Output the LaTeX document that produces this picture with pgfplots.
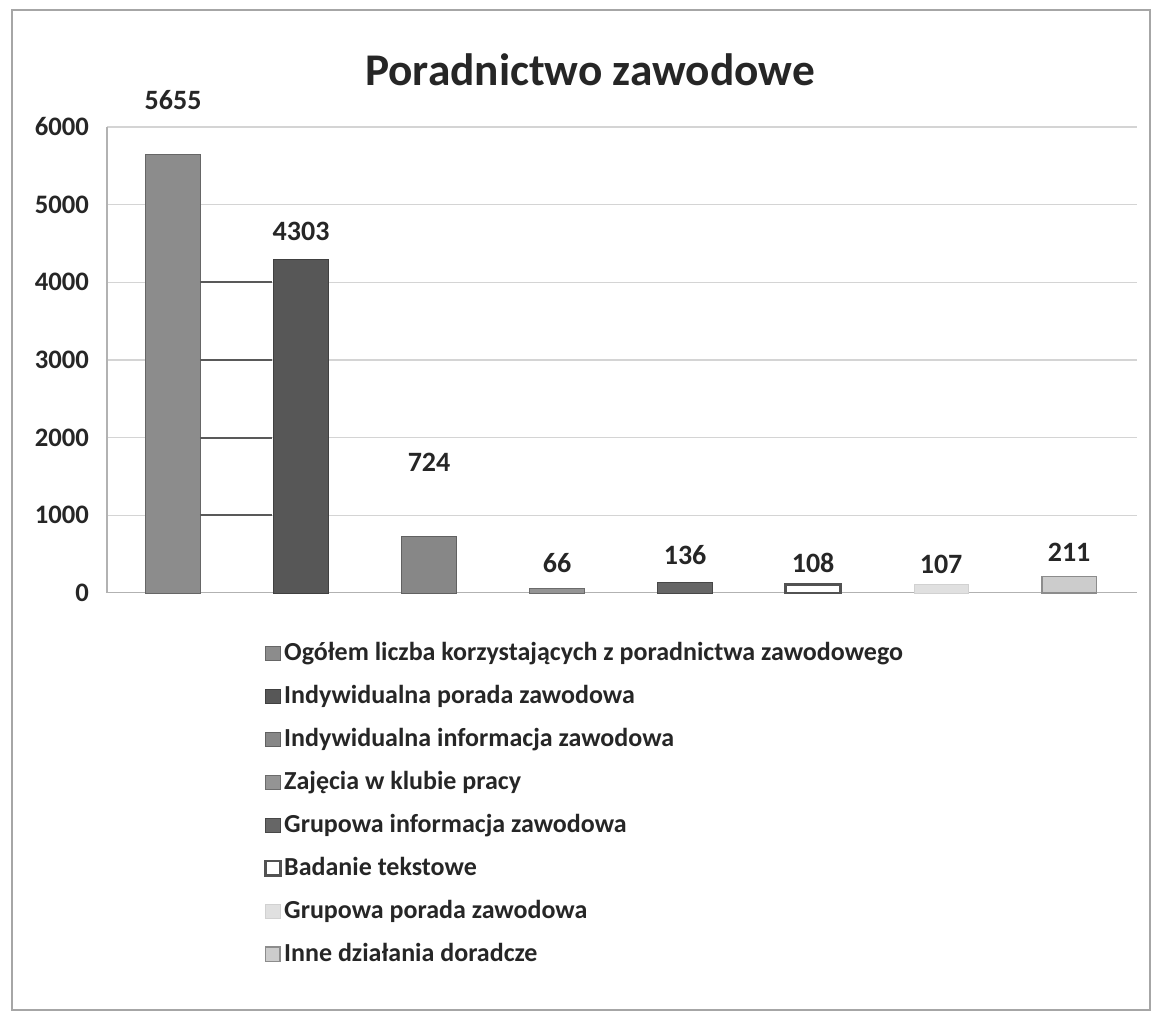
\documentclass[border=0pt]{standalone}
\usepackage{pgfplots}
\pgfplotsset{compat=1.18}
\usepackage{fontspec}
\setmainfont{Carlito}
\definecolor{gridc}{HTML}{D4D4D4}
\begin{document}
\begin{tikzpicture}
\begin{axis}[
  scale only axis,
  width=772.5pt, height=349.5pt,
  ybar, bar width=41pt, bar shift=0pt,
  xmin=-0.516, xmax=7.53,
  ymin=0, ymax=6000,
  ytick={0,1000,...,6000},
  xtick=\empty,
  ymajorgrids,
  grid style={gridc, line width=0.8pt},
  axis x line*=bottom,
  axis y line*=left,
  y axis line style={draw=gray!60, line width=0.8pt, -},
  x axis line style={draw=gray!60, line width=0.8pt, -},
  major tick length=0pt,
  /pgf/number format/assume math mode=true,
  /pgf/number format/1000 sep={},
  yticklabel style={font=\fontsize{20}{22}\selectfont\bfseries, text=black!85, xshift=-10pt},
  nodes near coords,
  every node near coord/.append style={font=\fontsize{21}{24}\selectfont\bfseries, text=black!85, anchor=center},
  legend image code/.code={\draw[#1] (0pt,-5.5pt) rectangle (11pt,5.5pt);},
  legend style={at={(0.1485,-0.089)}, anchor=north west, draw=none, fill=none,
    font=\fontsize{19.5}{22}\selectfont\bfseries, text=black!85,
    row sep=8.25pt, nodes={text height=15pt, text depth=5pt, inner sep=2pt}},
  legend cell align=left,
  clip=false,
]
\addplot[bar shift=0pt, fill=black!45, draw=black!60, every node near coord/.append style={yshift=40.5pt}] coordinates {(0,5655)};
\addlegendentry{Ogółem liczba korzystających z poradnictwa zawodowego}
\addplot[bar shift=0pt, fill=black!66, draw=black!75, every node near coord/.append style={yshift=20.25pt}] coordinates {(1,4303)};
\addlegendentry{Indywidualna porada zawodowa}
\addplot[bar shift=0pt, fill=black!47, draw=black!62, every node near coord/.append style={yshift=55.5pt}] coordinates {(2,724)};
\addlegendentry{Indywidualna informacja zawodowa}
\addplot[bar shift=0pt, fill=black!42, draw=black!58, every node near coord/.append style={yshift=18.75pt}] coordinates {(3,66)};
\addlegendentry{Zajęcia w klubie pracy}
\addplot[bar shift=0pt, fill=black!60, draw=black!72, every node near coord/.append style={yshift=20.25pt}] coordinates {(4,136)};
\addlegendentry{Grupowa informacja zawodowa}
\addplot[bar shift=0pt, fill=white, draw=black!68, line width=2pt, every node near coord/.append style={yshift=16.5pt}] coordinates {(5,108)};
\addlegendentry{Badanie tekstowe}
\addplot[bar shift=0pt, fill=black!12, draw=black!18, every node near coord/.append style={yshift=15pt}] coordinates {(6,107)};
\addlegendentry{Grupowa porada zawodowa}
\addplot[bar shift=0pt, fill=black!20, draw=black!45, line width=1.2pt, every node near coord/.append style={yshift=18pt}] coordinates {(7,211)};
\addlegendentry{Inne działania doradcze}
\addplot[sharp plot, nodes near coords={}, draw=black!65, line width=1.3pt, forget plot, unbounded coords=jump]
  coordinates {(0.21,1000) (0.77,1000) (0.5,nan) (0.21,2000) (0.77,2000) (0.5,nan) (0.21,3000) (0.77,3000) (0.5,nan) (0.21,4000) (0.77,4000)};
\path (axis description cs:-0.1039,-0.9056) rectangle (axis description cs:1.0146,1.2725);
\draw[color=gray!70, line width=1pt] (axis description cs:-0.0922,-0.895) rectangle (axis description cs:1.0126,1.251);
\node[font=\fontsize{34}{40}\selectfont\bfseries, text=black!85] at (axis description cs:0.469,1.1223) {Poradnictwo zawodowe};
\end{axis}
\end{tikzpicture}
\end{document}
